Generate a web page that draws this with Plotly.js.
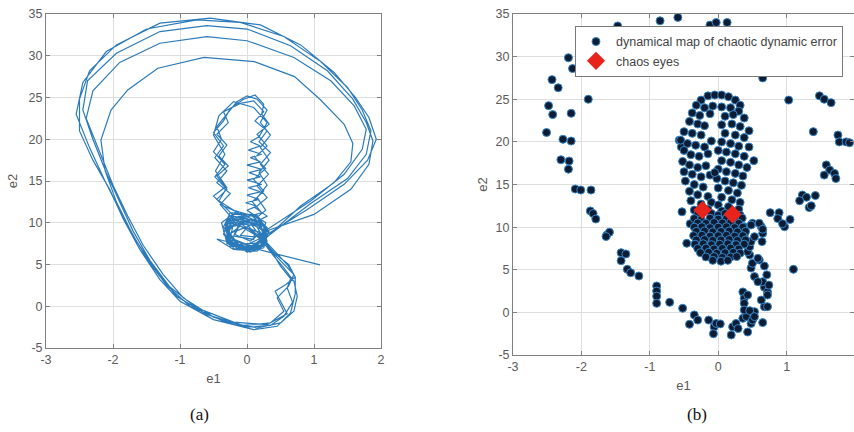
<!DOCTYPE html>
<html>
<head>
<meta charset="utf-8">
<script src="https://cdn.plot.ly/plotly-3.0.1.min.js"></script>
<style>html,body{margin:0;padding:0;background:#fff;overflow:hidden;}#chart{width:854px;height:432px;}</style>
</head>
<body>
<div id="chart"></div>
<script>
// ---------- DATA ----------
const xTickVals = [-3, -2, -1, 0, 1, 2];
const xTickText = ['-3', '-2', '-1', '0', '1', '2'];
const yTickVals = [-5, 0, 5, 10, 15, 20, 25, 30, 35];
const yTickText = ['-5', '0', '5', '10', '15', '20', '25', '30', '35'];

// (a) trajectory segments, [e1, e2]
const trajTransient = [[1.09,4.95],[-0.45,8.05]];
const trajBlob1 = [[-0.2,6.8],[0.15,6.6],[0.3,7.8],[0.2,9.8],[-0.15,10.5],[-0.35,9.0],[-0.25,7.2],[0.1,6.9],[0.28,8.5],[0.12,10.2],[-0.2,10.8],[-0.3,8.8],[-0.1,7.0],[0.22,7.3],[0.3,9.2],[0.05,11.0],[-0.28,10.4],[-0.3,8.2],[0.0,6.5],[0.25,7.0],[0.32,9.0],[0.15,10.9],[-0.25,11.2],[-0.35,9.5],[-0.15,7.4],[0.18,7.6],[0.28,10.0],[0.0,11.5]];
const trajSpring = [[0.15,12.0],[-0.02,12.4],[0.18,12.8],[0.0,13.3],[0.2,13.7],[0.02,14.2],[0.22,14.6],[0.0,15.1],[0.2,15.5],[0.03,16.0],[0.22,16.4],[0.0,16.9],[0.2,17.3],[0.05,17.8],[0.22,18.2],[0.02,18.7],[0.2,19.2],[0.05,19.7],[0.18,20.3],[0.3,22.0],[0.1,23.8],[-0.2,24.5],[-0.42,22.8],[-0.5,20.5],[-0.33,18.2],[-0.47,16.2],[-0.3,14.2],[-0.42,12.6],[-0.22,11.0],[-0.32,9.2],[-0.1,7.2],[0.2,7.0],[0.3,8.6]];
const trajCol1 = [[0.18,10.6],[-0.2,11.5],[-0.45,12.8],[-0.3,14.0],[-0.48,15.5],[-0.33,17.0],[-0.5,18.5],[-0.38,20.0],[-0.45,21.5],[-0.3,23.0],[-0.15,24.5],[0.0,25.2],[0.15,24.8],[0.3,23.5],[0.2,22.0],[0.35,20.5],[0.2,19.0],[0.33,17.5],[0.18,16.0],[0.3,14.5],[0.15,13.0],[0.28,11.5],[0.05,10.0],[-0.25,9.5],[-0.3,7.5],[0.0,6.7],[0.25,7.5]];
const trajLoop1 = [[0.30,8.6],[0.9,11.6],[1.45,14.6],[1.8,17.5],[1.93,20.0],[1.82,22.6],[1.62,25.0],[1.3,28.0],[0.8,31.3],[0.2,33.7],[-0.55,34.5],[-1.3,33.9],[-1.95,31.3],[-2.35,28.2],[-2.5,24.8],[-2.5,21.0],[-2.3,17.5],[-2.05,14.0],[-1.85,10.5],[-1.6,6.8],[-1.3,3.2],[-1.0,0.6],[-0.5,-1.6],[0.1,-2.8],[0.45,-2.4],[0.65,-0.8],[0.72,1.5],[0.72,3.5],[0.6,5.0],[0.42,6.5],[0.25,8.0]];
const trajBlob2 = [[0.05,9.2],[-0.25,10.0],[-0.3,8.0],[-0.05,6.8],[0.22,7.4],[0.3,9.4],[0.1,11.0],[-0.2,11.0],[-0.33,9.2],[-0.2,7.3],[0.1,7.0],[0.28,8.2]];
const trajLoop2 = [[0.95,12.3],[1.5,15.3],[1.78,18.2],[1.85,21.0],[1.72,23.5],[1.5,26.2],[1.1,29.3],[0.55,32.3],[-0.1,34.0],[-0.75,34.3],[-1.5,33.2],[-2.1,30.5],[-2.45,26.8],[-2.55,23.0],[-2.35,19.0],[-2.12,15.0],[-1.9,11.5],[-1.65,7.8],[-1.35,4.2],[-1.05,1.2],[-0.6,-1.0],[-0.05,-2.3],[0.35,-2.0],[0.55,-0.6],[0.45,1.0],[0.62,2.4],[0.7,3.8],[0.5,5.5],[0.3,7.2]];
const trajCol2 = [[0.1,8.8],[-0.25,10.8],[-0.4,12.2],[-0.25,13.5],[-0.45,14.8],[-0.3,16.2],[-0.48,17.8],[-0.35,19.2],[-0.5,20.8],[-0.35,22.2],[-0.25,23.7],[-0.05,24.8],[0.12,25.3],[0.25,24.2],[0.22,23.0],[0.33,21.8],[0.15,20.6],[0.3,19.2],[0.12,17.8],[0.28,16.5],[0.1,15.2],[0.25,13.8],[0.08,12.5],[0.22,11.2],[-0.1,10.5],[-0.3,9.8],[-0.25,8.0],[0.05,7.2],[0.28,8.0]];
const trajBlob5 = [[0.2,8.2],[-0.1,9.6],[-0.3,8.4],[-0.1,6.8],[0.2,7.1],[0.25,9.0],[0.0,10.2],[-0.27,9.6],[-0.25,7.7],[0.02,6.9],[0.27,8.0],[0.18,10.0],[-0.12,10.8],[-0.33,9.8],[-0.2,7.9],[0.08,7.2],[0.3,8.6],[0.1,10.4],[-0.2,10.0],[-0.25,8.2],[0.0,7.4],[0.22,8.2],[0.15,9.6],[-0.1,9.9],[-0.18,8.6],[0.05,7.8],[0.2,8.8],[0.0,9.4],[-0.1,8.5],[0.1,8.3],[0.32,9.1]];
const trajLoop3 = [[1.0,11.0],[1.55,14.0],[1.82,17.0],[1.88,19.8],[1.78,22.0],[1.58,24.8],[1.2,28.2],[0.65,31.2],[0.0,33.2],[-0.6,33.6],[-1.3,32.9],[-1.95,30.3],[-2.38,27.0],[-2.45,23.5],[-2.3,20.0],[-2.1,16.0],[-1.9,12.5],[-1.7,9.0],[-1.45,5.5],[-1.15,2.3],[-0.75,-0.2],[-0.2,-1.9],[0.3,-2.2],[0.6,-0.9],[0.5,0.6],[0.42,1.8],[0.58,2.6],[0.72,3.5],[0.62,5.0],[0.42,6.3],[0.25,7.8]];
const trajBlob3 = [[0.0,10.5],[-0.3,10.2],[-0.3,7.8],[0.0,6.6],[0.28,7.6],[0.25,9.8],[-0.05,10.9],[-0.28,9.0],[-0.1,7.1],[0.2,7.3],[0.33,9.0]];
const trajLoop4 = [[0.3,9.2],[0.95,12.6],[1.45,15.8],[1.72,18.8],[1.78,21.2],[1.6,24.0],[1.25,27.0],[0.7,29.8],[0.0,31.8],[-0.6,32.3],[-1.3,31.5],[-1.9,29.2],[-2.3,25.8],[-2.4,22.5],[-2.2,18.5],[-2.0,14.5],[-1.78,10.8],[-1.55,7.3],[-1.25,3.8],[-0.95,1.0],[-0.5,-1.3],[0.0,-2.5],[0.35,-2.3],[0.55,-1.2],[0.68,0.5],[0.6,2.2],[0.65,3.3],[0.5,4.8],[0.35,6.8]];
const trajCol3 = [[0.15,9.5],[-0.15,11.3],[-0.35,12.0],[-0.5,13.2],[-0.32,14.3],[-0.45,15.6],[-0.28,16.8],[-0.42,18.0],[-0.3,19.3],[-0.45,20.6],[-0.28,22.0],[-0.35,23.3],[-0.1,24.3],[0.1,24.6],[0.25,23.3],[0.12,22.2],[0.3,21.0],[0.18,19.7],[0.35,18.4],[0.2,17.0],[0.32,15.8],[0.15,14.4],[0.3,13.0],[0.12,11.8],[0.3,10.8],[0.0,9.5],[-0.3,8.6],[-0.2,6.9],[0.15,6.8],[0.3,8.3]];
const trajLoop5 = [[0.8,12.0],[1.3,14.8],[1.55,17.3],[1.58,19.5],[1.45,21.8],[1.1,24.7],[0.71,27.5],[0.11,29.3],[-0.64,29.8],[-1.33,28.5],[-1.78,25.9],[-2.03,23.5],[-2.18,19.9],[-2.12,16.3],[-1.95,12.5],[-1.72,8.8],[-1.48,5.5],[-1.2,2.5],[-0.85,0.0],[-0.35,-1.8],[0.15,-2.6],[0.5,-2.0],[0.7,-0.6],[0.75,1.2],[0.7,3.0],[0.55,4.6],[0.4,6.0],[0.25,7.6]];
const trajBlob4 = [[0.0,9.8],[-0.28,10.6],[-0.35,8.6],[-0.15,6.9],[0.2,6.9],[0.32,8.8],[0.15,10.6],[-0.15,11.4],[-0.38,10.0],[-0.3,7.6],[0.05,6.5],[0.3,7.4],[0.25,9.6],[-0.1,10.2],[-0.2,8.4],[0.1,8.0],[0.12,9.2]];

// (b) sampled points of the dynamical map, [e1, e2]
const mapOuter = [[-0.85,34.2],[-0.59,34.6],[-1.47,33.6],[-0.12,33.7],[-0.03,34.0],[0.13,34.0],
[-2.19,29.87],[-2.13,28.6],[-1.90,28.2],[-1.41,28.5],[-2.43,27.3],[-2.34,26.35],[-1.90,25.0],[-2.48,24.25],[-2.42,23.2],[-2.15,23.35],[-2.51,21.1],[-2.27,20.3],[-2.15,20.1],[-2.30,17.9],[-2.18,17.75],[-2.19,16.8],
[0.12,29.3],[0.65,27.5],[0.93,29.2],[1.03,28.75],[1.10,29.0],[1.29,28.6],[1.03,24.9],[1.48,25.4],[1.55,25.0],[1.65,24.6],[1.39,21.2],[1.75,20.8],[1.77,20.0],[1.87,20.0],[1.92,19.9],[1.58,17.3],[1.63,16.7],[1.70,16.3],[1.55,16.1],[1.72,15.7],
[1.23,13.77],[1.29,13.5],[1.42,13.7],[1.19,13.1],[1.33,12.3],[1.36,12.5],[0.76,11.7],[0.89,11.7],[0.87,11.0],[0.97,10.05],[0.94,10.4],[1.05,10.9],[1.10,5.05],
[-2.09,14.47],[-2.01,14.35],[-1.86,14.35],[-1.87,11.9],[-1.83,11.6],[-1.79,10.95],[-1.63,9.07],[-1.59,9.4],[-1.64,8.9],[-1.42,7.0],[-1.35,6.85],[-1.42,6.06],[-1.33,5.05],[-1.28,4.65],[-1.16,4.27],[-0.90,3.1],[-0.90,2.5],[-0.90,1.9],[-0.90,1.06],[-0.71,1.18],[-0.52,0.48],
[-0.53,11.8],[-0.41,10.4],[-0.46,8.1],[-0.57,20.2],[-0.54,19.4],
[-0.42,-1.4],[-0.35,-0.3],[-0.30,-0.9],[-0.14,-0.9],[-0.06,-1.7],[-0.03,-1.3],[-0.07,-2.5],[0.03,-1.35],[0.19,-2.65],[0.21,-1.7],[0.26,-1.3],[0.29,-1.9],[0.36,-0.7],[0.41,-0.5],[0.43,-2.3],[0.48,-1.3],[0.50,-0.9],[0.53,0.08],[0.65,-1.2],[0.675,0.67],[0.72,0.67],[0.63,1.45],[0.36,2.4],[0.38,1.65],[0.38,1.06],[0.43,2.04],[0.38,0.28],[0.46,0.2],[0.53,-0.5],[0.675,2.94],[0.72,2.4],[0.72,2.04],[0.65,3.6],[0.53,4.2],[0.58,3.6],[0.71,4.4],[0.74,3.2],[0.48,5.2],[0.50,5.76],[0.60,6.14],[0.675,5.44],[0.46,6.73],[0.43,7.12],[0.46,7.7],[0.48,8.3],[0.58,6.34],[0.53,8.88],[0.64,8.3],[0.65,9.27],[0.63,10.05],[0.50,10.45],[0.60,10.45],[0.65,9.75],[0.38,10.05],[0.38,9.07],[0.48,10.25]];
const mapRing = [[-0.25,24.9],[-0.15,25.4],[-0.05,25.5],[0.05,25.5],[0.15,25.3],[0.25,24.9],[0.32,24.3],[-0.32,24.3],[-0.2,24.0],[-0.08,24.2],[0.05,24.1],[0.18,24.0],[0.3,23.6],[-0.38,23.4],[-0.27,23.1],[-0.12,23.3],[0.1,23.0],[0.22,23.2],[0.38,22.8],
[-0.42,22.4],[-0.3,22.1],[-0.2,21.9],[-0.5,21.2],[-0.38,21.0],[-0.25,20.8],[-0.55,20.2],[-0.45,19.8],[-0.33,19.6],[-0.2,19.4],[-0.5,19.0],[-0.4,18.5],[-0.28,18.3],[-0.15,18.6],[-0.52,17.7],[-0.42,17.3],[-0.3,17.0],[-0.18,17.2],[-0.5,16.5],[-0.38,16.2],[-0.25,15.9],[-0.12,16.1],[-0.48,15.4],[-0.35,15.0],[-0.22,14.7],[-0.42,14.2],[-0.3,13.8],[-0.15,13.6],[-0.4,13.1],[-0.25,12.7],[-0.1,12.9],
[0.05,22.0],[0.2,22.1],[0.32,21.8],[0.45,21.3],[0.1,21.0],[0.25,20.8],[0.38,20.5],[0.05,20.0],[0.18,19.8],[0.3,19.5],[0.45,19.4],[0.0,19.0],[0.12,18.8],[0.25,18.6],[0.38,18.3],[0.52,17.8],[0.05,17.8],[0.18,17.6],[0.3,17.3],[0.42,17.0],[0.0,16.8],[0.12,16.5],[0.25,16.3],[0.36,16.0],[-0.02,15.7],[0.1,15.4],[0.22,15.2],[0.34,14.9],[0.0,14.6],[0.15,14.3],[0.28,14.0],[0.05,13.5],[0.2,13.2],[0.32,12.9],[0.0,12.6],[0.15,12.4],[-0.1,20.1],[-0.05,16.4]];
const mapCore = [[-0.35,12.0],[-0.15,12.1],[0.05,11.9],[0.3,12.1],
[-0.3,11.5],[-0.1,11.6],[0.0,11.4],[0.1,11.6],[0.32,11.4],
[-0.35,11.0],[-0.25,10.9],[-0.12,11.05],[0.0,10.95],[0.12,11.0],[0.25,10.9],[0.35,11.05],
[-0.3,10.5],[-0.18,10.45],[-0.06,10.55],[0.06,10.5],[0.18,10.55],[0.3,10.45],
[-0.35,10.0],[-0.24,10.05],[-0.12,9.95],[0.0,10.0],[0.12,10.05],[0.24,9.95],[0.36,10.0],
[-0.32,9.5],[-0.2,9.55],[-0.08,9.45],[0.04,9.5],[0.16,9.55],[0.28,9.45],[0.4,9.5],
[-0.36,9.0],[-0.24,9.05],[-0.12,8.95],[0.0,9.0],[0.12,9.05],[0.24,8.95],[0.36,9.0],
[-0.32,8.5],[-0.2,8.55],[-0.08,8.45],[0.04,8.5],[0.16,8.55],[0.28,8.45],[0.4,8.5],
[-0.34,8.0],[-0.22,8.05],[-0.1,7.95],[0.02,8.0],[0.14,8.05],[0.26,7.95],[0.38,8.0],
[-0.3,7.5],[-0.18,7.55],[-0.06,7.45],[0.06,7.5],[0.18,7.55],[0.3,7.45],
[-0.26,7.0],[-0.14,7.05],[-0.02,6.95],[0.1,7.0],[0.22,7.05],[0.32,6.95],
[-0.18,6.5],[-0.06,6.55],[0.06,6.45],[0.18,6.5],[0.27,6.55],
[-0.08,6.1],[0.04,6.0],[0.14,6.1]];
const eyesE1 = [-0.23, 0.21];
const eyesE2 = [12.0, 11.5];

// ---------- BUILD ----------
const traj = [].concat(trajTransient, trajBlob1, trajSpring, trajCol1, trajLoop1, trajBlob2, trajLoop2, trajCol2, trajBlob5, trajLoop3, trajBlob3, trajLoop4, trajCol3, trajLoop5, trajBlob4);
const mapPts = [].concat(mapOuter, mapRing, mapCore);

const axisFont = {family: 'Liberation Sans, Arial, sans-serif', size: 12.5, color: '#5a5a5a'};
const titleFont = {family: 'Liberation Sans, Arial, sans-serif', size: 13, color: '#5a5a5a'};

function xax(domain, range, anchor) {
  return {domain: domain, range: range, anchor: anchor, tickvals: xTickVals, ticktext: xTickText,
    showgrid: true, gridcolor: '#dedede', zeroline: false, showline: true, mirror: 'ticks',
    linecolor: '#808080', linewidth: 1, ticks: 'inside', ticklen: 4, tickcolor: '#808080',
    tickfont: axisFont, title: {text: 'e1', font: titleFont, standoff: 7}, fixedrange: true};
}
function yax(domain, anchor, standoff) {
  return {domain: domain, range: [-5, 35], anchor: anchor, tickvals: yTickVals, ticktext: yTickText,
    showgrid: true, gridcolor: '#dedede', zeroline: false, showline: true, mirror: 'ticks',
    linecolor: '#808080', linewidth: 1, ticks: 'inside', ticklen: 4, tickcolor: '#808080',
    tickfont: axisFont, title: {text: 'e2', font: titleFont, standoff: standoff}, fixedrange: true};
}

const data = [
  {x: traj.map(p => p[0]), y: traj.map(p => p[1]), xaxis: 'x', yaxis: 'y', type: 'scatter', mode: 'lines',
   line: {color: '#2b7bba', width: 1.2}, showlegend: false, hoverinfo: 'skip'},
  {x: mapPts.map(p => p[0]), y: mapPts.map(p => p[1]), xaxis: 'x2', yaxis: 'y2', type: 'scatter', mode: 'markers',
   name: 'dynamical map of chaotic dynamic error',
   marker: {color: '#0d1c33', size: 8, line: {color: '#3585c6', width: 1}}},
  {x: eyesE1, y: eyesE2, xaxis: 'x2', yaxis: 'y2', type: 'scatter', mode: 'markers', name: 'chaos eyes',
   marker: {color: '#e8231c', symbol: 'diamond', size: 14, line: {width: 0}}}
];

const layout = {
  width: 854, height: 432,
  margin: {l: 46, r: 0, t: 14, b: 77},
  paper_bgcolor: '#ffffff', plot_bgcolor: '#ffffff',
  font: {family: 'Liberation Sans, Arial, sans-serif', color: '#444'},
  xaxis: xax([0, 0.4146], [-3, 2], 'y'),
  yaxis: yax([0.0205, 1], 'x', 8),
  xaxis2: xax([0.578, 1], [-3, 1.985], 'y2'),
  yaxis2: yax([0, 1], 'x2', 5),
  showlegend: true,
  legend: {x: 0.6547, y: 0.965, xanchor: 'left', yanchor: 'top', bgcolor: '#ffffff',
    bordercolor: '#7a7a7a', borderwidth: 1, font: {family: 'Liberation Sans, Arial, sans-serif', size: 12.5, color: '#444'},
    tracegroupgap: 0},
  annotations: [
    {text: '(a)', xref: 'paper', yref: 'paper', x: (199 - 46) / 808, y: (355 - 414) / 341, showarrow: false,
     xanchor: 'center', yanchor: 'middle', font: {family: 'Liberation Serif, Times New Roman, serif', size: 17, color: '#111'}},
    {text: '(b)', xref: 'paper', yref: 'paper', x: (697 - 46) / 808, y: (355 - 414) / 341, showarrow: false,
     xanchor: 'center', yanchor: 'middle', font: {family: 'Liberation Serif, Times New Roman, serif', size: 17, color: '#111'}}
  ]
};

Plotly.newPlot('chart', data, layout, {staticPlot: true, displayModeBar: false});
</script>
</body>
</html>
